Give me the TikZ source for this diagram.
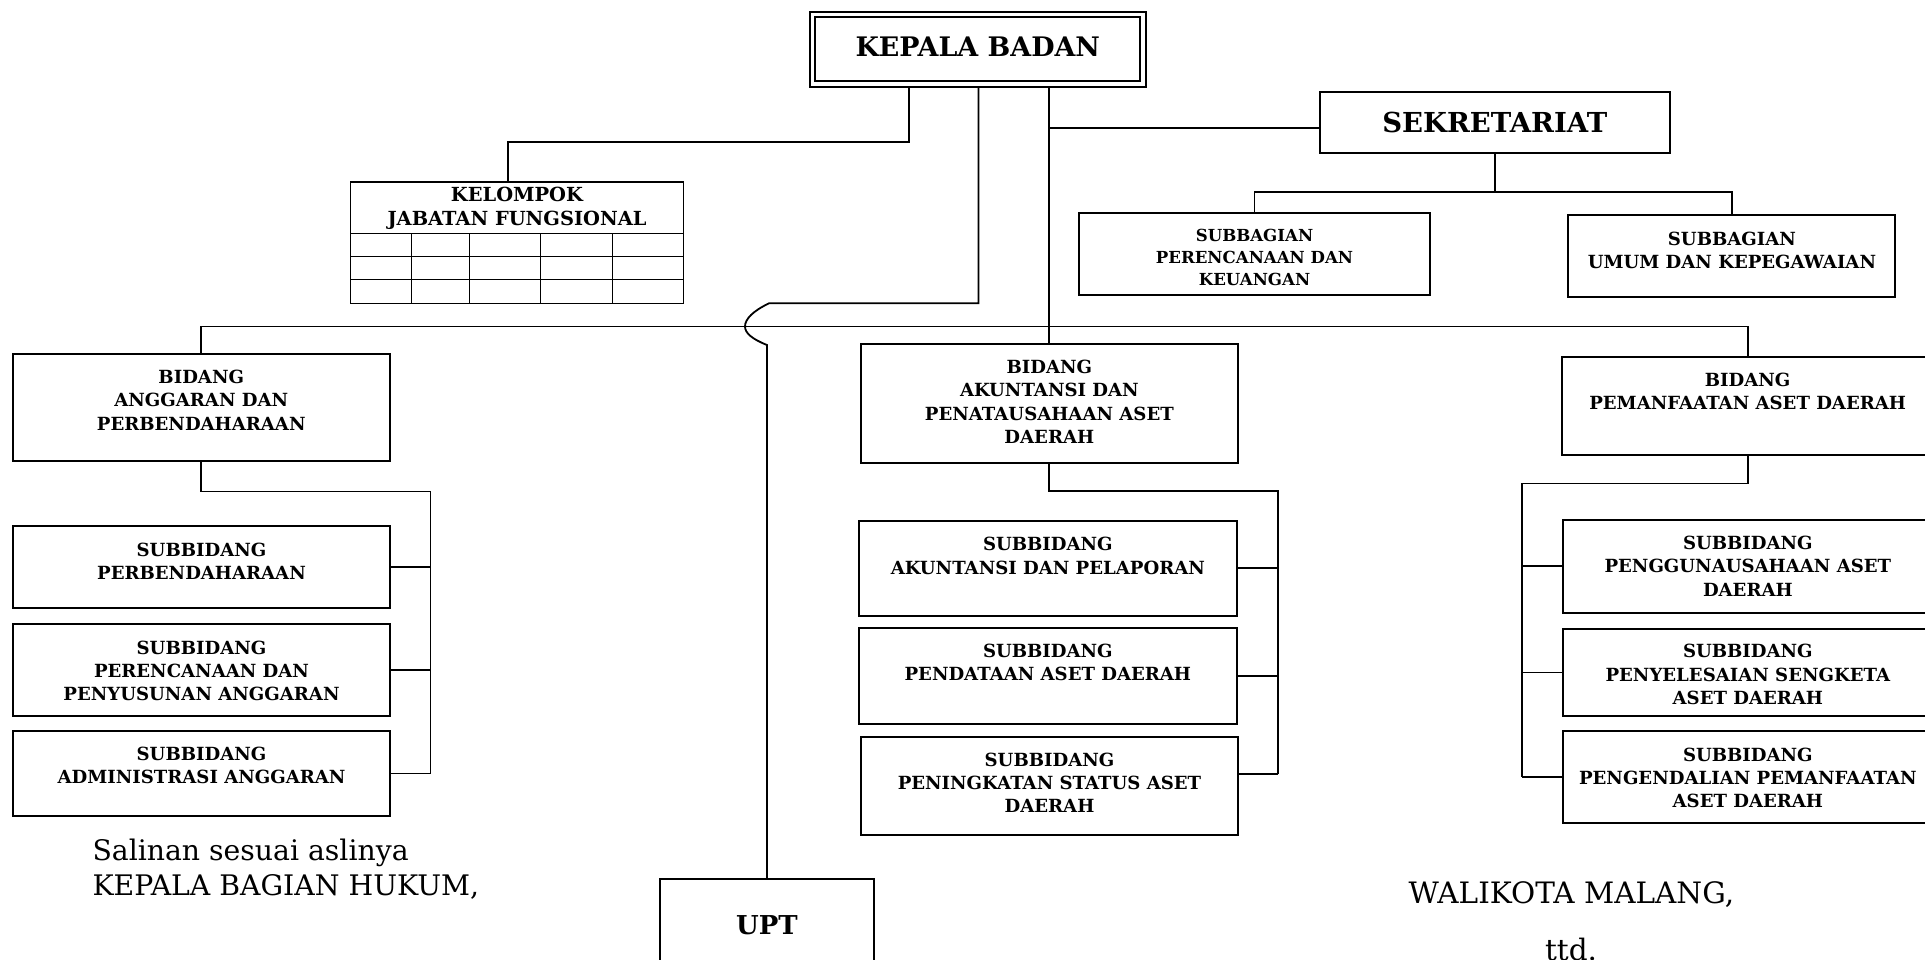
\documentclass[tikz,border=0pt]{standalone}
\usepackage{fontspec}
\setmainfont{DejaVu Serif}
\tikzset{
 box/.style={draw, line width=2pt, inner sep=0pt, outer sep=0pt},
 con/.style={line width=1.8pt},
 gridl/.style={line width=1.1pt},
 lbl/.style={align=center, inner sep=0pt, font=\bfseries\fontsize{18.1}{23.3}\selectfont},
 lbls/.style={align=center, inner sep=0pt, font=\bfseries\fontsize{16.6}{22}\selectfont},
 lblk/.style={align=center, inner sep=0pt, font=\bfseries\fontsize{19.4}{23.3}\selectfont},
 big/.style={inner sep=0pt, font=\bfseries\fontsize{26.9}{34}\selectfont},
 bigs/.style={inner sep=0pt, font=\bfseries\fontsize{27.5}{34}\selectfont},
 bigu/.style={inner sep=0pt, font=\bfseries\fontsize{26}{34}\selectfont},
 sig/.style={inner sep=0pt, font=\fontsize{28.3}{34}\selectfont},
 sigw/.style={inner sep=0pt, font=\fontsize{29.5}{34}\selectfont},
}
\begin{document}
\begin{tikzpicture}[x=1pt,y=-1pt]
\useasboundingbox (0,0) rectangle (1925,959);
\clip (0,0) rectangle (1925,959);

% top
\node[draw, double, line width=2pt, double distance=3.6pt, inner sep=0pt, outer sep=3.8pt,
      minimum width=330.9pt, minimum height=69.7pt] (kb) at (977.75,49.35) {};
\node[big] (kbt) at (977.8,47) {KEPALA BADAN};

\node[box, minimum width=350.5pt, minimum height=61.6pt] (sek) at (1494.8,122.5) {};
\node[bigs] (sekt) at (sek.center) {SEKRETARIAT};

\node[box, minimum width=351pt, minimum height=82.3pt] (sbP) at (1254.5,253.85) {};
\node[lbls] (sbPt) at ([yshift=-44.3pt]sbP.north) {SUBBAGIAN\\PERENCANAAN DAN\\KEUANGAN};
\node[box, minimum width=327pt, minimum height=82.3pt] (sbU) at (1731.9,256.15) {};
\node[lbl] (sbUt) at ([yshift=-35.5pt]sbU.north) {SUBBAGIAN\\UMUM DAN KEPEGAWAIAN};

% kelompok jabatan fungsional table
\node[draw, gridl, inner sep=0pt, outer sep=0pt, minimum width=333.2pt, minimum height=121.3pt] (jf) at (517,242.65) {};
\node[lblk] (jft) at ([yshift=-26.35pt]jf.north) {KELOMPOK\\JABATAN FUNGSIONAL};
\draw[gridl] (jf.west |- 0,233.3) -- (jf.east |- 0,233.3)
             (jf.west |- 0,256.7) -- (jf.east |- 0,256.7)
             (jf.west |- 0,279.8) -- (jf.east |- 0,279.8);
\foreach \cx in {411.6,469.3,540.7,612.3}{
  \draw[gridl] (\cx,233.3) -- (jf.south -| \cx,0);
}

% bidang
\node[box, minimum width=377.5pt, minimum height=107.5pt] (bA) at (201.25,407.25) {};
\node[lbl] (bAt) at ([yshift=-46.5pt]bA.north) {BIDANG\\ANGGARAN DAN\\PERBENDAHARAAN};
\node[box, minimum width=377.3pt, minimum height=118.8pt] (bB) at (1049.35,403.4) {};
\node[lbl] (bBt) at ([yshift=-57.7pt]bB.north) {BIDANG\\AKUNTANSI DAN\\PENATAUSAHAAN ASET\\DAERAH};
\node[box, minimum width=370.7pt, minimum height=98.3pt] (bC) at (1747.65,405.85) {};
\node[lbl] (bCt) at ([yshift=-34.6pt]bC.north) {BIDANG\\PEMANFAATAN ASET DAERAH};

% subbidang A
\node[box, minimum width=377pt, minimum height=82.3pt] (sA1) at (201.5,566.85) {};
\node[lbl] (sA1t) at ([yshift=-35.3pt]sA1.north) {SUBBIDANG\\PERBENDAHARAAN};
\node[box, minimum width=377pt, minimum height=92.2pt] (sA2) at (201.5,669.9) {};
\node[lbl] (sA2t) at ([yshift=-47.2pt]sA2.north) {SUBBIDANG\\PERENCANAAN DAN\\PENYUSUNAN ANGGARAN};
\node[box, minimum width=377pt, minimum height=85.8pt] (sA3) at (201.5,773.5) {};
\node[lbl] (sA3t) at ([yshift=-34.7pt]sA3.north) {SUBBIDANG\\ADMINISTRASI ANGGARAN};

% subbidang B
\node[box, minimum width=377.3pt, minimum height=94.7pt] (sB1) at (1047.85,568.15) {};
\node[lbl] (sB1t) at ([yshift=-35pt]sB1.north) {SUBBIDANG\\AKUNTANSI DAN PELAPORAN};
\node[box, minimum width=377.3pt, minimum height=96.3pt] (sB2) at (1047.85,676.15) {};
\node[lbl] (sB2t) at ([yshift=-34.5pt]sB2.north) {SUBBIDANG\\PENDATAAN ASET DAERAH};
\node[box, minimum width=377.6pt, minimum height=98.2pt] (sB3) at (1049.5,785.8) {};
\node[lbl] (sB3t) at ([yshift=-46.2pt]sB3.north) {SUBBIDANG\\PENINGKATAN STATUS ASET\\DAERAH};

% subbidang C
\node[box, minimum width=370.3pt, minimum height=93.2pt] (sC1) at (1747.85,566.1) {};
\node[lbl] (sC1t) at ([yshift=-46.5pt]sC1.north) {SUBBIDANG\\PENGGUNAUSAHAAN ASET\\DAERAH};
\node[box, minimum width=370.3pt, minimum height=87.2pt] (sC2) at (1747.85,672.4) {};
\node[lbl] (sC2t) at ([yshift=-45.85pt]sC2.north) {SUBBIDANG\\PENYELESAIAN SENGKETA\\ASET DAERAH};
\node[box, minimum width=370.3pt, minimum height=91.7pt] (sC3) at (1747.85,776.85) {};
\node[lbl] (sC3t) at ([yshift=-47pt]sC3.north) {SUBBIDANG\\PENGENDALIAN PEMANFAATAN\\ASET DAERAH};

% UPT
\node[box, line width=2.4pt, minimum width=214pt, minimum height=121.3pt] (upt) at (767,939.35) {};
\node[bigu] (uptt) at (767,925) {UPT};

% signature texts
\node[sig, anchor=base west] (sal) at (92.3,860) {Salinan sesuai aslinya};
\node[sig, anchor=base west] (kbh) at (92.3,895.7) {KEPALA BAGIAN HUKUM,};
\node[sigw, anchor=base west] (wm) at (1408.3,903.3) {WALIKOTA MALANG,};
\node[sigw, anchor=base] (ttd) at (1571,960) {ttd.};

% connectors from KEPALA BADAN
\coordinate (a1) at (909,141.7);
\coordinate (a2) at (507.6,141.7);
\draw[con] (kb.south -| a1) -- (a1) -- (a2) -- (a2 |- jf.north);

\coordinate (u1) at (978.5,303.3);
\coordinate (u2) at (769,303.3);
\coordinate (u3) at (767,345);
\draw[con] (kb.south -| u1) -- (u1) -- (u2)
  .. controls (753,311) and (745,319) .. (745,326.5)
  .. controls (745,333) and (752,339) .. (u3) -- (upt.north);

\coordinate (s1) at (1049.35,127.7);
\draw[con] (kb.south -| bB.north) -- (bB.north);
\draw[con] (s1) -- (s1 -| sek.west);

% sekretariat
\coordinate (sk) at (1494.8,191.7);
\draw[con] (sek.south) -- (sk);
\draw[con] (sbP.north) |- (sk) -| (sbU.north);

% main bus
\coordinate (bus) at (1747.65,326.5);
\draw[con] (bA.north) |- (bus) -- (bC.north);

% bracket A
\coordinate (brA) at (430.5,491.5);
\draw[con] (bA.south) |- (brA) -- (brA |- sA3.east);
\draw[con] (sA1.east) -- (sA1.east -| brA);
\draw[con] (sA2.east) -- (sA2.east -| brA);
\draw[con] (sA3.east) -- (sA3.east -| brA);

% bracket B
\coordinate (brB) at (1278.3,491.3);
\coordinate (brB3) at (1278.3,774.3);
\draw[con] (bB.south) |- (brB) -- (brB3);
\draw[con] (sB1.east) -- (sB1.east -| brB);
\draw[con] (sB2.east) -- (sB2.east -| brB);
\draw[con] (brB3) -- (brB3 -| sB3.east);

% bracket C
\coordinate (brC) at (1522.3,483.5);
\draw[con] (bC.south) |- (brC) -- (brC |- sC3.west);
\draw[con] (sC1.west) -- (sC1.west -| brC);
\draw[con] (sC2.west) -- (sC2.west -| brC);
\draw[con] (sC3.west) -- (sC3.west -| brC);
\end{tikzpicture}
\end{document}
